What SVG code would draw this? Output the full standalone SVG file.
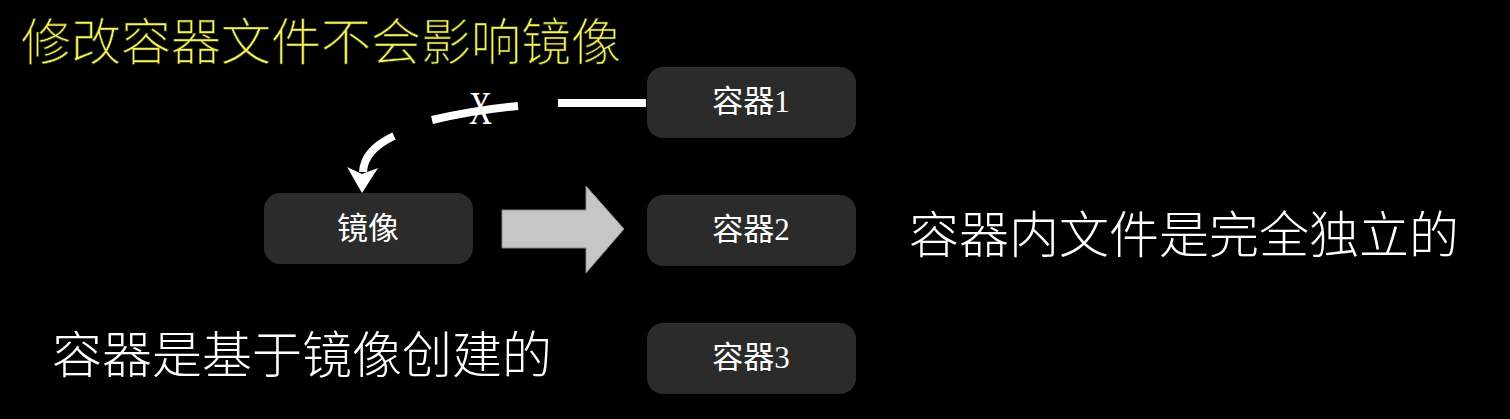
<svg xmlns="http://www.w3.org/2000/svg" width="1510" height="419" viewBox="0 0 1510 419">
<style>
.box{fill:#2b2b2b}
.lbl{font-family:"Liberation Serif","Noto Sans CJK SC",serif;font-size:31px;fill:#ffffff;text-anchor:middle}
.big{font-family:"Noto Sans CJK SC",sans-serif;font-size:50px;font-weight:300;fill:#ffffff}
.title{font-family:"Noto Sans CJK SC",sans-serif;font-size:50px;font-weight:300;fill:#f4f45e;stroke:#3a3a10;stroke-width:0.6}
.wl{fill:none;stroke:#ffffff;stroke-width:8}
</style>
<rect width="1510" height="419" fill="#000000"/>
<text class="title" x="21" y="60">修改容器文件不会影响镜像</text>
<g id="connectors">
  <path class="wl" d="M558,103 L646,103"/>
  <path class="wl" d="M432,120 Q475,110 518,106"/>
  <text x="469" y="124" font-family="Liberation Serif,serif" font-size="46" fill="#ffffff" textLength="23" lengthAdjust="spacingAndGlyphs">X</text>
  <path class="wl" d="M394,136 Q364,150 363,172"/>
  <polygon points="347,167 362,174 378,168 362,193" fill="#ffffff"/>
  <polygon points="502,210 586,210 586,186 624,229 586,273 586,248 502,248" fill="#c6c6c6" stroke="#8a8a8a" stroke-width="1"/>
</g>
<g id="node-image">
  <rect class="box" x="264" y="193" width="209" height="71" rx="16"/>
  <text class="lbl" x="368" y="239">镜像</text>
</g>
<g id="node-c1">
  <rect class="box" x="647" y="67" width="209" height="71" rx="16"/>
  <text class="lbl" x="751" y="112">容器1</text>
</g>
<g id="node-c2">
  <rect class="box" x="647" y="195" width="209" height="71" rx="16"/>
  <text class="lbl" x="751" y="240">容器2</text>
</g>
<g id="node-c3">
  <rect class="box" x="647" y="323" width="209" height="71" rx="16"/>
  <text class="lbl" x="751" y="368">容器3</text>
</g>
<text class="big" x="909" y="253">容器内文件是完全独立的</text>
<text class="big" x="52" y="373">容器是基于镜像创建的</text>
</svg>
